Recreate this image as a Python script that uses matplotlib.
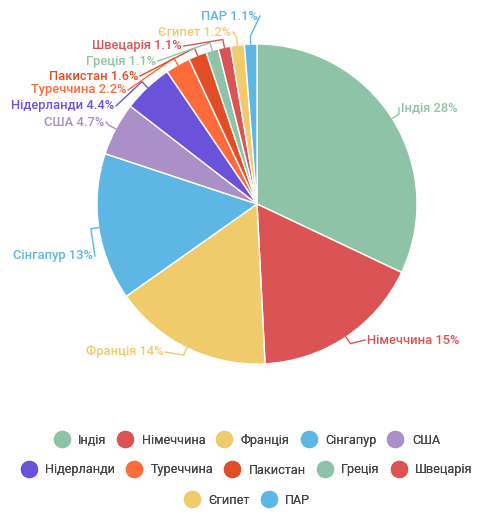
import numpy as np
import matplotlib.pyplot as plt
from matplotlib.lines import Line2D

plt.rcParams['font.family'] = ['Roboto', 'DejaVu Sans']

# data
countries = ['Індія', 'Німеччина', 'Франція', 'Сінгапур', 'США', 'Нідерланди',
             'Туреччина', 'Пакистан', 'Греція', 'Швецарія', 'Єгипет', 'ПАР']
shares = [28, 15, 14, 13, 4.7, 4.4, 2.2, 1.6, 1.1, 1.1, 1.2, 1.1]
share_labels = ['28%', '15%', '14%', '13%', '4.7%', '4.4%', '2.2%', '1.6%',
                '1.1%', '1.1%', '1.2%', '1.1%']
colors = ['#8fc3a8', '#dc5356', '#efcb6b', '#5eb6e4', '#aa8fc9', '#6b52db',
          '#ff6b3b', '#e24d26', '#8fc3a8', '#dc5356', '#efcb6b', '#5eb6e4']

# label placement (pixels from top-left), alignment
label_pos = [(401, 108), (367, 340), (163, 352), (93, 256), (104, 122), (114, 106),
             (126, 90), (138, 76), (156, 61), (182, 46), (231, 32), (258, 16)]
label_ha = ['left', 'left'] + ['right'] * 10

W, H = 494, 519
fig = plt.figure(figsize=(W / 100, H / 100), dpi=100)
ax = fig.add_axes([0, 0, 1, 1])

cx, cy, r = 257, H - 204, 160
wedges, _ = ax.pie(shares, colors=colors, startangle=90, counterclock=False,
                   center=(cx, cy), radius=r, frame=True,
                   wedgeprops=dict(edgecolor='white', linewidth=1))
ax.set_xlim(0, W)
ax.set_ylim(0, H)
ax.set_aspect('equal')
ax.axis('off')

for w, name, pct, (lx, ly), ha, c in zip(wedges, countries, share_labels,
                                         label_pos, label_ha, colors):
    th = np.deg2rad((w.theta1 + w.theta2) / 2)
    x0, y0 = cx + r * np.cos(th), cy + r * np.sin(th)
    x1, y1 = cx + (r + 8) * np.cos(th), cy + (r + 8) * np.sin(th)
    ly = H - ly
    ex = lx - 2 if ha == 'left' else lx + 2
    ax.plot([x0, x1, ex], [y0, y1, ly], color=c, lw=1, solid_joinstyle='miter')
    ax.text(lx, ly, f'{name} {pct}', color=c, ha=ha, va='center',
            fontsize=9.3, fontweight='medium')

# legend in three centered rows
rows = [range(0, 5), range(5, 10), range(10, 12)]
row_y = [440, 470, 500]
for idx, yy in zip(rows, row_y):
    handles = [Line2D([], [], ls='none', marker='o', markersize=11.5,
                      markerfacecolor=colors[i], markeredgecolor=colors[i])
               for i in idx]
    leg = fig.legend(handles, [countries[i] for i in idx], ncol=len(idx),
                     loc='center', bbox_to_anchor=(0.5, 1 - yy / H),
                     frameon=False, fontsize=9.1, handlelength=1.2,
                     handletextpad=0.7, columnspacing=0.9, borderpad=0)
    for t in leg.get_texts():
        t.set_color('#444444')
    fig.add_artist(leg)

fig.savefig('out.png', dpi=100)
